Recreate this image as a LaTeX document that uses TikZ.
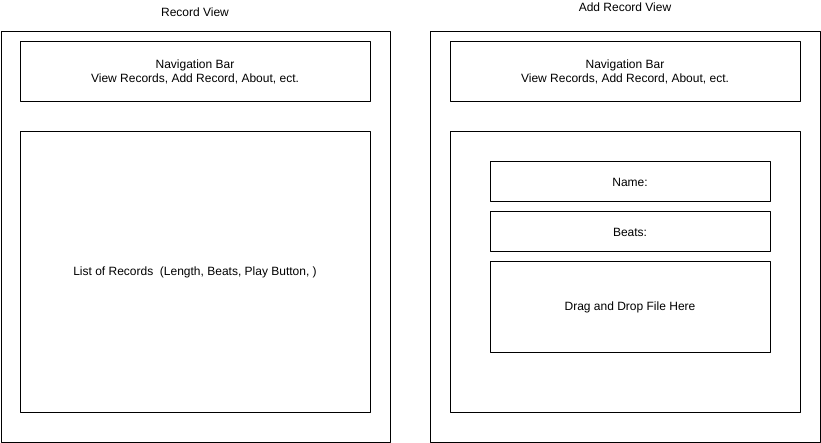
\documentclass[tikz,border=0pt]{standalone}
\usepackage{fontspec}
\setmainfont{Liberation Sans}
\begin{document}
\begin{tikzpicture}[x=1pt,y=-1pt,line join = round, font=\fontsize{12}{14.5}\selectfont]
            \tikzset{box/.style={draw,line width=1pt,rectangle,inner sep=0pt,align=center}}
            \useasboundingbox (0,0) rectangle (821,443);
            % record view
            \node (recview) at (195,12) {Record View};
            \node[box,minimum width=389pt,minimum height=410pt] (recframe) at (195.5,237) {};
            \node[box,minimum width=350pt,minimum height=60pt] (recnav) at (195,72) {Navigation Bar\\View Records, Add Record, About, ect.};
            \node[box,minimum width=350pt,minimum height=280pt] (reclist) at (195,272) {List of Records\ \ (Length, Beats, Play Button, )};
            % add record view
            \node (addview) at (625,7) {Add Record View};
            \node[box,minimum width=390pt,minimum height=410pt] (addframe) at (625,237) {};
            \node[box,minimum width=350pt,minimum height=60pt] (addnav) at (625,72) {Navigation Bar\\View Records, Add Record, About, ect.};
            \node[box,minimum width=350pt,minimum height=280pt] (addform) at (625,272) {};
            \node[box,minimum width=280pt,minimum height=40pt] (name) at (630,182) {Name:};
            \node[box,minimum width=280pt,minimum height=40pt] (beats) at (630,232) {Beats:};
            \node[box,minimum width=280pt,minimum height=90pt] (drop) at (630,307) {Drag and Drop File Here};
        \end{tikzpicture}
\end{document}
